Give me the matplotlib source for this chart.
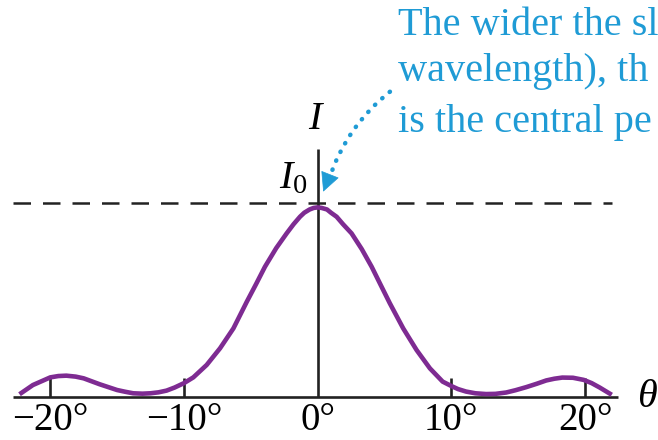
import matplotlib.pyplot as plt
from matplotlib.patches import FancyArrowPatch

# intensity (theta in degrees, I relative to I0)
theta = [-22.3, -21.3, -20.0, -19.4, -18.8, -18.1, -17.5, -16.3, -15.0, -14.4, -13.8,
         -13.1, -12.5, -11.9, -11.3, -10.7, -10.0, -9.3, -8.3, -7.3, -6.3, -5.3, -4.6,
         -3.94, -3.1, -2.32, -1.8, -1.32, -1.0, -0.6, -0.3,
         0.0, 0.3, 0.7, 1.0, 1.42, 1.9, 2.54, 3.3, 4.04, 4.7, 5.4, 6.4, 7.4, 8.4,
         9.35, 10.0, 10.5, 11.1, 11.8, 12.6, 13.3, 14.1, 14.8, 15.6, 16.4, 17.1, 17.7,
         18.3, 19.1, 19.9, 20.5, 21.1, 22.0]
intensity = [0.017, 0.065, 0.105, 0.112, 0.114, 0.109, 0.100, 0.069, 0.039, 0.030, 0.022,
             0.020, 0.022, 0.027, 0.036, 0.052, 0.075, 0.105, 0.170, 0.257, 0.361, 0.500, 0.593,
             0.683, 0.780, 0.857, 0.905, 0.944, 0.965, 0.982, 0.990,
             0.993, 0.990, 0.982, 0.965, 0.944, 0.905, 0.857, 0.775, 0.683, 0.590, 0.492, 0.361, 0.248, 0.152,
             0.083, 0.060, 0.044, 0.031, 0.022, 0.018, 0.019, 0.026, 0.038, 0.054, 0.072, 0.089, 0.098,
             0.104, 0.103, 0.092, 0.075, 0.052, 0.014]

tick_pos = [-20, -10, 0, 10, 20]
tick_labels = ['\u221220\u00b0', '\u221210\u00b0', '0\u00b0', '10\u00b0', '20\u00b0']
# only the part of the note that fits inside the picture
note_lines = ['The wider the sl', 'wavelength), th', 'is the central pe']
note_y = [1.945, 1.70, 1.438]

purple = '#7e2b92'
blue = '#1f9bd5'
serif = 'Liberation Serif'
plt.rcParams['mathtext.fontset'] = 'custom'
plt.rcParams['mathtext.rm'] = serif
plt.rcParams['mathtext.it'] = serif + ':italic'

fig = plt.figure(figsize=(6.58, 4.4), dpi=100)
ax = fig.add_axes([0, 0, 1, 1])
ax.set_xlim(-23.76, 25.46)
ax.set_ylim(-0.222, 2.076)
ax.axis('off')

# axes drawn by hand
ax.plot([-22.8, 22.45], [0, 0], color='#222222', lw=1.9, solid_capstyle='butt')
ax.plot([0, 0], [0, 1.30], color='#222222', lw=1.9, solid_capstyle='butt')
for t in [-20, -10, 10, 20]:
    ax.plot([t, t], [0, 0.104], color='#222222', lw=1.9, solid_capstyle='butt')
ax.plot([-22.8, 22.0], [1.014, 1.014], color='#222222', lw=1.8, dashes=(7, 4.8))

ax.plot(theta, intensity, color=purple, lw=3.3, solid_joinstyle='round', solid_capstyle='butt')

for t, lab in zip(tick_pos, tick_labels):
    ax.text(t, -0.17, lab, family=serif, fontsize=28, ha='center', va='baseline')

ax.text(-0.2, 1.45, 'I', family=serif, style='italic', fontsize=29, ha='center', va='center')
ax.text(-0.75, 1.15, '$I_0$', fontsize=29, ha='right', va='center')
ax.text(24.6, 0.0, '\u03b8', family=serif, style='italic', fontsize=29, ha='center', va='center')

for line, y in zip(note_lines, note_y):
    ax.text(6.0, y, line, family=serif, fontsize=29, color=blue, ha='left', va='center')

# dotted shaft + solid head
shaft = FancyArrowPatch((5.41, 1.597), (0.85, 1.14), arrowstyle='-', shrinkA=0, shrinkB=0,
                        connectionstyle='arc3,rad=0.15', color=blue, lw=3.2,
                        linestyle=(0, (0.1, 2.1)), capstyle='round')
ax.add_patch(shaft)
ax.annotate('', xy=(0.42, 1.075), xytext=(0.9, 1.16),
            arrowprops=dict(arrowstyle='-|>,head_length=0.7,head_width=0.35', color=blue,
                            lw=0.5, shrinkA=0, shrinkB=0, mutation_scale=18))

fig.savefig('out.png', dpi=100)
